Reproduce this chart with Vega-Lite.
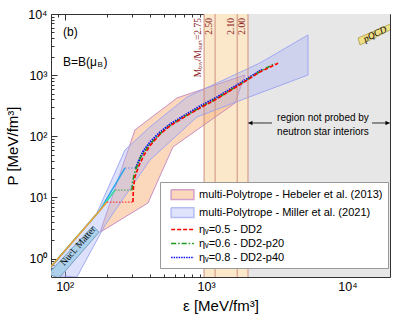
{
 "$schema": "https://vega.github.io/schema/vega-lite/v6.json",
 "width": 339, "height": 263,
 "autosize": {"type": "none"},
 "padding": {"left": 51, "top": 14, "right": 17, "bottom": 38},
 "background": "white",
 "config": {
  "view": {"stroke": "#333", "strokeWidth": 1},
  "axis": {"labelFont": "Liberation Sans", "titleFont": "Liberation Sans", "labelFontSize": 12.5, "titleFontSize": 15, "titleFontWeight": "normal", "labelColor": "#000", "titleColor": "#000", "domainColor": "#333", "tickColor": "#333", "grid": false, "labelOverlap": false},
  "legend": {"symbolSize": 169, "symbolStrokeWidth": 1.5, "labelFont": "Liberation Sans", "labelFontSize": 11, "labelOffset": 9, "symbolOffset": 10, "rowPadding": 1, "padding": 5, "fillColor": "white", "strokeColor": "#999", "cornerRadius": 0, "labelLimit": 300, "symbolOpacity": 1}
 },
 "datasets": {
  "bands": [{"kind": "gray", "e": 1980, "e2": 20000}, {"kind": "orange", "e": 968, "e2": 1980}],
  "mlines": [{"e": 968, "lab": "Mₜₒᵥ/Mₛᵤₙ=2.75"}, {"e": 1158, "lab": "2.50"}, {"e": 1660, "lab": "2.10"}, {"e": 1980, "lab": "2.00"}],
  "hebeler": [{"o": 1, "e": 178, "p": 2.7}, {"o": 2, "e": 314, "p": 127}, {"o": 3, "e": 622, "p": 423}, {"o": 4, "e": 1884, "p": 1005}, {"o": 5, "e": 1602, "p": 350}, {"o": 6, "e": 583, "p": 67}, {"o": 7, "e": 388, "p": 8.1}],
  "miller": [{"o": 1, "e": 72.6, "p": 0.54}, {"o": 2, "e": 169, "p": 5.57}, {"o": 3, "e": 267, "p": 59.7}, {"o": 4, "e": 401, "p": 142}, {"o": 5, "e": 733, "p": 439}, {"o": 6, "e": 2405, "p": 1581}, {"o": 7, "e": 5260, "p": 4540}, {"o": 8, "e": 5260, "p": 1005}, {"o": 9, "e": 2405, "p": 511}, {"o": 10, "e": 862, "p": 207}, {"o": 11, "e": 401, "p": 41}, {"o": 12, "e": 193, "p": 3.54}, {"o": 13, "e": 122, "p": 0.5}],
  "nucl": [{"o": 1, "e": 76.2, "p": 0.56}, {"o": 2, "e": 158.5, "p": 3.41}, {"o": 3, "e": 175, "p": 2.7}, {"o": 4, "e": 91.2, "p": 0.48}],
  "pqcd": [{"o": 1, "e": 11880, "p": 4046}, {"o": 2, "e": 23550, "p": 8040}, {"o": 3, "e": 23550, "p": 6607}, {"o": 4, "e": 12280, "p": 3112}],
  "solid": [
   {"s": "blue", "o": 1, "e": 75, "p": 0.62}, {"s": "blue", "o": 2, "e": 178, "p": 6.2}, {"s": "blue", "o": 3, "e": 267, "p": 30.3},
   {"s": "green", "o": 1, "e": 75, "p": 0.62}, {"s": "green", "o": 2, "e": 178, "p": 6.2}, {"s": "green", "o": 3, "e": 227, "p": 13.2},
   {"s": "orange", "o": 1, "e": 75, "p": 0.62}, {"s": "orange", "o": 2, "e": 178, "p": 6.2}, {"s": "orange", "o": 3, "e": 199, "p": 8.4}],
  "conn": [
   {"s": "red", "o": 1, "e": 199, "p": 8.4}, {"s": "red", "o": 2, "e": 304, "p": 8.4},
   {"s": "green", "o": 1, "e": 227, "p": 13.2}, {"s": "green", "o": 2, "e": 299, "p": 13.2},
   {"s": "blue", "o": 1, "e": 267, "p": 30.3}, {"s": "blue", "o": 2, "e": 319, "p": 30.3}],
  "red": [{"o": 1, "e": 304, "p": 8.4}, {"o": 2, "e": 306, "p": 14}, {"o": 3, "e": 314, "p": 21.6}, {"o": 4, "e": 335, "p": 33}, {"o": 5, "e": 365, "p": 50}, {"o": 6, "e": 405, "p": 72}, {"o": 7, "e": 472, "p": 108}, {"o": 8, "e": 556, "p": 148}, {"o": 9, "e": 687, "p": 200}, {"o": 10, "e": 906, "p": 290}, {"o": 11, "e": 1194, "p": 410}, {"o": 12, "e": 1738, "p": 700}, {"o": 13, "e": 2405, "p": 1130}, {"o": 14, "e": 3230, "p": 1560}],
  "green": [{"o": 1, "e": 299, "p": 13.2}, {"o": 2, "e": 302, "p": 18}, {"o": 3, "e": 316, "p": 28}, {"o": 4, "e": 345, "p": 46}, {"o": 5, "e": 400, "p": 74}, {"o": 6, "e": 472, "p": 110}, {"o": 7, "e": 556, "p": 150}, {"o": 8, "e": 687, "p": 204}, {"o": 9, "e": 906, "p": 296}, {"o": 10, "e": 1194, "p": 418}, {"o": 11, "e": 1738, "p": 710}, {"o": 12, "e": 2405, "p": 1150}, {"o": 13, "e": 3074, "p": 1560}],
  "blue": [{"o": 1, "e": 319, "p": 30.3}, {"o": 2, "e": 330, "p": 37}, {"o": 3, "e": 358, "p": 56}, {"o": 4, "e": 401, "p": 80}, {"o": 5, "e": 472, "p": 116}, {"o": 6, "e": 556, "p": 157}, {"o": 7, "e": 687, "p": 212}, {"o": 8, "e": 906, "p": 310}, {"o": 9, "e": 1194, "p": 435}, {"o": 10, "e": 1738, "p": 735}, {"o": 11, "e": 2488, "p": 1230}],
  "ann": [{"t": "(b)", "e": 97.2, "p": 5085}, {"t": "B=B(μ", "e": 97.2, "p": 1641}],
  "annsub": [{"t": "B", "e": 97.2, "p": 1641}],
  "annpar": [{"t": ")", "e": 97.2, "p": 1641}],
  "region": [{"t": "region not probed by", "e": 6714, "p": 199}, {"t": "neutron star interiors", "e": 6714, "p": 117.5}],
  "nucltxt": [{"t": "Nucl. Matter", "e": 124, "p": 1.61}],
  "pqcdtxt": [{"t": "pQCD", "e": 15670, "p": 4710}],
  "arrows": [{"e": 1985, "e2": 2924, "p": 165}, {"e": 14930, "e2": 19950, "p": 165}],
  "headl": [{"e": 2061, "p": 165}],
  "headr": [{"e": 19190, "p": 165}],
  "leg": [{"s": "multi-Polytrope - Hebeler et al. (2013)"}, {"s": "multi-Polytrope - Miller et al. (2021)"}, {"s": "ηᵥ=0.5 - DD2"}, {"s": "ηᵥ=0.6 - DD2-p20"}, {"s": "ηᵥ=0.8 - DD2-p40"}]
 },
 "resolve": {"axis": {"x": "independent", "y": "independent"}, "scale": {"color": "independent"}},
 "layer": [
  {"data": {"name": "bands"}, "mark": {"type": "rect"},
   "encoding": {"x": {"field": "e", "type": "quantitative", "scale": {"type": "log", "domain": [80, 20000], "nice": false}, "axis": null}, "x2": {"field": "e2"},
    "color": {"field": "kind", "type": "nominal", "scale": {"domain": ["gray", "orange"], "range": ["#e7e7e7", "#fbe8cb"]}, "legend": null}}},
  {"data": {"name": "hebeler"}, "mark": {"type": "line", "interpolate": "linear-closed", "fill": "#f7b07a", "fillOpacity": 0.5, "stroke": "#c484c0", "strokeWidth": 0.9, "clip": true},
   "encoding": {"x": {"field": "e", "type": "quantitative", "scale": {"type": "log", "domain": [80, 20000], "nice": false},
     "axis": {"orient": "top", "values": [90, 100, 200, 300, 400, 500, 600, 700, 800, 900, 1000, 2000, 3000, 4000, 5000, 6000, 7000, 8000, 9000, 10000], "labels": false, "domain": false, "title": null, "tickSize": {"condition": {"test": "datum.value==100||datum.value==1000||datum.value==10000", "value": -6}, "value": -3}}},
    "y": {"field": "p", "type": "quantitative", "scale": {"type": "log", "domain": [0.5, 10000], "nice": false},
     "axis": {"orient": "right", "values": [0.6, 0.7, 0.8, 0.9, 1, 2, 3, 4, 5, 6, 7, 8, 9, 10, 20, 30, 40, 50, 60, 70, 80, 90, 100, 200, 300, 400, 500, 600, 700, 800, 900, 1000, 2000, 3000, 4000, 5000, 6000, 7000, 8000, 9000], "labels": false, "domain": false, "title": null, "tickSize": {"condition": {"test": "datum.value==1||datum.value==10||datum.value==100||datum.value==1000", "value": -6}, "value": -3}}},
    "order": {"field": "o", "type": "quantitative"}}},
  {"data": {"name": "miller"}, "mark": {"type": "line", "interpolate": "linear-closed", "fill": "#a9b3f5", "fillOpacity": 0.4, "stroke": "#9aa2f2", "strokeWidth": 0.9, "clip": true},
   "encoding": {"x": {"field": "e", "type": "quantitative", "scale": {"type": "log", "domain": [80, 20000], "nice": false},
     "axis": {"orient": "bottom", "values": [90, 100, 200, 300, 400, 500, 600, 700, 800, 900, 1000, 2000, 3000, 4000, 5000, 6000, 7000, 8000, 9000, 10000], "labelExpr": "datum.value==100?'10²':datum.value==1000?'10³':datum.value==10000?'10⁴':''", "tickSize": {"condition": {"test": "datum.value==100||datum.value==1000||datum.value==10000", "value": -6}, "value": -3}, "domain": false, "labelPadding": 9, "title": "ε [MeV/fm³]", "titlePadding": 3}},
    "y": {"field": "p", "type": "quantitative", "scale": {"type": "log", "domain": [0.5, 10000], "nice": false},
     "axis": {"orient": "left", "values": [0.6, 0.7, 0.8, 0.9, 1, 2, 3, 4, 5, 6, 7, 8, 9, 10, 20, 30, 40, 50, 60, 70, 80, 90, 100, 200, 300, 400, 500, 600, 700, 800, 900, 1000, 2000, 3000, 4000, 5000, 6000, 7000, 8000, 9000, 10000], "labelExpr": "datum.value==1?'10⁰':datum.value==10?'10¹':datum.value==100?'10²':datum.value==1000?'10³':datum.value==10000?'10⁴':''", "tickSize": {"condition": {"test": "datum.value==1||datum.value==10||datum.value==100||datum.value==1000||datum.value==10000", "value": -6}, "value": -3}, "domain": false, "labelPadding": 10, "title": "P [MeV/fm³]", "titlePadding": 7}},
    "order": {"field": "o", "type": "quantitative"}}},
  {"data": {"name": "mlines"}, "mark": {"type": "rule", "color": "#cf8f80", "strokeWidth": 1},
   "encoding": {"x": {"field": "e", "type": "quantitative", "scale": {"type": "log", "domain": [80, 20000], "nice": false}, "axis": null}}},
  {"data": {"name": "mlines"}, "mark": {"type": "text", "angle": 270, "align": "right", "baseline": "bottom", "dx": -4, "dy": -1, "font": "Liberation Serif", "fontSize": 9.5, "color": "#8b2323"},
   "encoding": {"x": {"field": "e", "type": "quantitative", "scale": {"type": "log", "domain": [80, 20000], "nice": false}, "axis": null},
    "y": {"datum": 10000, "type": "quantitative", "scale": {"type": "log", "domain": [0.5, 10000], "nice": false}, "axis": null},
    "text": {"field": "lab"}}},
  {"data": {"name": "nucl"}, "mark": {"type": "line", "interpolate": "linear-closed", "fill": "#a9cfe9", "fillOpacity": 0.9, "stroke": "#5f8db5", "strokeWidth": 0.8, "clip": true},
   "encoding": {"x": {"field": "e", "type": "quantitative", "scale": {"type": "log", "domain": [80, 20000], "nice": false}, "axis": null},
    "y": {"field": "p", "type": "quantitative", "scale": {"type": "log", "domain": [0.5, 10000], "nice": false}, "axis": null},
    "order": {"field": "o", "type": "quantitative"}}},
  {"data": {"name": "pqcd"}, "mark": {"type": "line", "interpolate": "linear-closed", "fill": "#efdf86", "stroke": "#a89a4a", "strokeWidth": 0.8, "clip": true},
   "encoding": {"x": {"field": "e", "type": "quantitative", "scale": {"type": "log", "domain": [80, 20000], "nice": false}, "axis": null},
    "y": {"field": "p", "type": "quantitative", "scale": {"type": "log", "domain": [0.5, 10000], "nice": false}, "axis": null},
    "order": {"field": "o", "type": "quantitative"}}},
  {"data": {"name": "pqcdtxt"}, "mark": {"type": "text", "angle": 334, "align": "center", "baseline": "middle", "font": "Liberation Serif", "fontStyle": "italic", "fontSize": 9.5, "color": "#000"},
   "encoding": {"x": {"field": "e", "type": "quantitative", "scale": {"type": "log", "domain": [80, 20000], "nice": false}, "axis": null},
    "y": {"field": "p", "type": "quantitative", "scale": {"type": "log", "domain": [0.5, 10000], "nice": false}, "axis": null},
    "text": {"field": "t"}}},
  {"data": {"name": "solid"}, "mark": {"type": "line", "strokeWidth": 1.5, "clip": true},
   "encoding": {"x": {"field": "e", "type": "quantitative", "scale": {"type": "log", "domain": [80, 20000], "nice": false}, "axis": null},
    "y": {"field": "p", "type": "quantitative", "scale": {"type": "log", "domain": [0.5, 10000], "nice": false}, "axis": null},
    "color": {"field": "s", "type": "nominal", "scale": {"domain": ["blue", "green", "orange"], "range": ["#2ea6ea", "#2fd9a0", "#f39b35"]}, "legend": null},
    "order": {"field": "o", "type": "quantitative"}}},
  {"data": {"name": "nucltxt"}, "mark": {"type": "text", "angle": 311, "align": "center", "baseline": "middle", "font": "Liberation Serif", "fontSize": 9.5, "color": "#000"},
   "encoding": {"x": {"field": "e", "type": "quantitative", "scale": {"type": "log", "domain": [80, 20000], "nice": false}, "axis": null},
    "y": {"field": "p", "type": "quantitative", "scale": {"type": "log", "domain": [0.5, 10000], "nice": false}, "axis": null},
    "text": {"field": "t"}}},
  {"data": {"name": "conn"}, "mark": {"type": "line", "strokeWidth": 1.2, "strokeDash": [1.5, 1.5]},
   "encoding": {"x": {"field": "e", "type": "quantitative", "scale": {"type": "log", "domain": [80, 20000], "nice": false}, "axis": null},
    "y": {"field": "p", "type": "quantitative", "scale": {"type": "log", "domain": [0.5, 10000], "nice": false}, "axis": null},
    "color": {"field": "s", "type": "nominal", "scale": {"domain": ["red", "green", "blue"], "range": ["#ff4040", "#60a860", "#7080f0"]}, "legend": null},
    "order": {"field": "o", "type": "quantitative"}}},
  {"data": {"name": "blue"}, "mark": {"type": "line", "color": "#1010f0", "strokeWidth": 2.2, "strokeDash": [1.5, 1]},
   "encoding": {"x": {"field": "e", "type": "quantitative", "scale": {"type": "log", "domain": [80, 20000], "nice": false}, "axis": null},
    "y": {"field": "p", "type": "quantitative", "scale": {"type": "log", "domain": [0.5, 10000], "nice": false}, "axis": null},
    "order": {"field": "o", "type": "quantitative"}}},
  {"data": {"name": "green"}, "mark": {"type": "line", "color": "#1a9a1a", "strokeWidth": 1.6, "strokeDash": [5, 2, 1.5, 2]},
   "encoding": {"x": {"field": "e", "type": "quantitative", "scale": {"type": "log", "domain": [80, 20000], "nice": false}, "axis": null},
    "y": {"field": "p", "type": "quantitative", "scale": {"type": "log", "domain": [0.5, 10000], "nice": false}, "axis": null},
    "order": {"field": "o", "type": "quantitative"}}},
  {"data": {"name": "red"}, "mark": {"type": "line", "color": "#ff0000", "strokeWidth": 1.6, "strokeDash": [4, 2]},
   "encoding": {"x": {"field": "e", "type": "quantitative", "scale": {"type": "log", "domain": [80, 20000], "nice": false}, "axis": null},
    "y": {"field": "p", "type": "quantitative", "scale": {"type": "log", "domain": [0.5, 10000], "nice": false}, "axis": null},
    "order": {"field": "o", "type": "quantitative"}}},
  {"data": {"name": "ann"}, "mark": {"type": "text", "align": "left", "baseline": "middle", "font": "Liberation Sans", "fontSize": 12, "color": "#000"},
   "encoding": {"x": {"field": "e", "type": "quantitative", "scale": {"type": "log", "domain": [80, 20000], "nice": false}, "axis": null},
    "y": {"field": "p", "type": "quantitative", "scale": {"type": "log", "domain": [0.5, 10000], "nice": false}, "axis": null},
    "text": {"field": "t"}}},
  {"data": {"name": "annsub"}, "mark": {"type": "text", "align": "left", "baseline": "middle", "dx": 34.5, "dy": 3, "font": "Liberation Sans", "fontSize": 8, "color": "#000"},
   "encoding": {"x": {"field": "e", "type": "quantitative", "scale": {"type": "log", "domain": [80, 20000], "nice": false}, "axis": null},
    "y": {"field": "p", "type": "quantitative", "scale": {"type": "log", "domain": [0.5, 10000], "nice": false}, "axis": null},
    "text": {"field": "t"}}},
  {"data": {"name": "annpar"}, "mark": {"type": "text", "align": "left", "baseline": "middle", "dx": 40.5, "font": "Liberation Sans", "fontSize": 12, "color": "#000"},
   "encoding": {"x": {"field": "e", "type": "quantitative", "scale": {"type": "log", "domain": [80, 20000], "nice": false}, "axis": null},
    "y": {"field": "p", "type": "quantitative", "scale": {"type": "log", "domain": [0.5, 10000], "nice": false}, "axis": null},
    "text": {"field": "t"}}},
  {"data": {"name": "region"}, "mark": {"type": "text", "align": "center", "baseline": "middle", "font": "Liberation Sans", "fontSize": 10, "color": "#000"},
   "encoding": {"x": {"field": "e", "type": "quantitative", "scale": {"type": "log", "domain": [80, 20000], "nice": false}, "axis": null},
    "y": {"field": "p", "type": "quantitative", "scale": {"type": "log", "domain": [0.5, 10000], "nice": false}, "axis": null},
    "text": {"field": "t"}}},
  {"data": {"name": "arrows"}, "mark": {"type": "rule", "color": "#000", "strokeWidth": 0.8},
   "encoding": {"x": {"field": "e", "type": "quantitative", "scale": {"type": "log", "domain": [80, 20000], "nice": false}, "axis": null}, "x2": {"field": "e2"},
    "y": {"field": "p", "type": "quantitative", "scale": {"type": "log", "domain": [0.5, 10000], "nice": false}, "axis": null}}},
  {"data": {"name": "headl"}, "mark": {"type": "point", "shape": "triangle-left", "filled": true, "size": 20, "color": "#000", "opacity": 1},
   "encoding": {"x": {"field": "e", "type": "quantitative", "scale": {"type": "log", "domain": [80, 20000], "nice": false}, "axis": null},
    "y": {"field": "p", "type": "quantitative", "scale": {"type": "log", "domain": [0.5, 10000], "nice": false}, "axis": null}}},
  {"data": {"name": "headr"}, "mark": {"type": "point", "shape": "triangle-right", "filled": true, "size": 20, "color": "#000", "opacity": 1},
   "encoding": {"x": {"field": "e", "type": "quantitative", "scale": {"type": "log", "domain": [80, 20000], "nice": false}, "axis": null},
    "y": {"field": "p", "type": "quantitative", "scale": {"type": "log", "domain": [0.5, 10000], "nice": false}, "axis": null}}},
  {"data": {"name": "leg"}, "mark": {"type": "point", "opacity": 0},
   "encoding": {
    "fill": {"field": "s", "type": "nominal", "scale": {"domain": ["multi-Polytrope - Hebeler et al. (2013)", "multi-Polytrope - Miller et al. (2021)", "ηᵥ=0.5 - DD2", "ηᵥ=0.6 - DD2-p20", "ηᵥ=0.8 - DD2-p40"], "range": ["#fbd8bc", "#dfe3fb", "transparent", "transparent", "transparent"]}, "legend": {"orient": "none", "legendX": 109, "legendY": 168, "title": null}},
    "stroke": {"field": "s", "type": "nominal", "scale": {"domain": ["multi-Polytrope - Hebeler et al. (2013)", "multi-Polytrope - Miller et al. (2021)", "ηᵥ=0.5 - DD2", "ηᵥ=0.6 - DD2-p20", "ηᵥ=0.8 - DD2-p40"], "range": ["#d2a0c8", "#b4bcf4", "#ff0000", "#1a9a1a", "#1010f0"]}, "legend": {"orient": "none", "legendX": 109, "legendY": 168, "title": null}},
    "shape": {"field": "s", "type": "nominal", "scale": {"domain": ["multi-Polytrope - Hebeler et al. (2013)", "multi-Polytrope - Miller et al. (2021)", "ηᵥ=0.5 - DD2", "ηᵥ=0.6 - DD2-p20", "ηᵥ=0.8 - DD2-p40"], "range": ["M-1.75,-0.75H1.75V0.75H-1.75Z", "M-1.75,-0.75H1.75V0.75H-1.75Z", "M-1.75,0H1.75", "M-1.75,0H1.75", "M-1.75,0H1.75"]}, "legend": {"orient": "none", "legendX": 109, "legendY": 168, "title": null}},
    "strokeDash": {"field": "s", "type": "nominal", "scale": {"domain": ["multi-Polytrope - Hebeler et al. (2013)", "multi-Polytrope - Miller et al. (2021)", "ηᵥ=0.5 - DD2", "ηᵥ=0.6 - DD2-p20", "ηᵥ=0.8 - DD2-p40"], "range": [[1, 0], [1, 0], [4, 2], [5, 2, 1.5, 2], [1.5, 1]]}, "legend": {"orient": "none", "legendX": 109, "legendY": 168, "title": null}}
   }}
 ]
}
